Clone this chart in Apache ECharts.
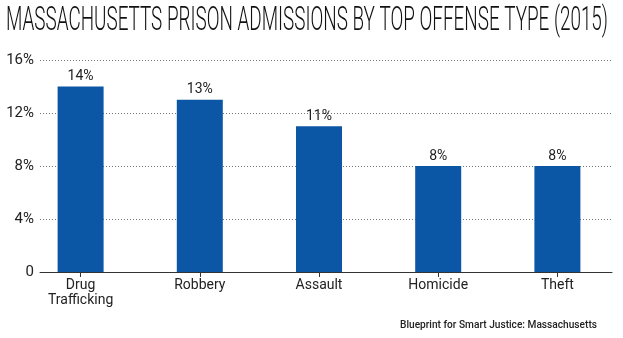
<!DOCTYPE html>
<html>
<head>
<meta charset="utf-8">
<script src="https://cdn.jsdelivr.net/npm/echarts@6/dist/echarts.min.js"></script>
<style>
  html, body { margin: 0; padding: 0; background: #fff; }
  #chart { width: 623px; height: 338px; }
</style>
</head>
<body>
<div id="chart"></div>
<script>
// Offense categories and share of 2015 prison admissions (%)
const categories = ['Drug\nTrafficking', 'Robbery', 'Assault', 'Homicide', 'Theft'];
const shares = [14, 13, 11, 8, 8];
const yTicks = [0, 4, 8, 12, 16];
const titleText = 'MASSACHUSETTS PRISON ADMISSIONS BY TOP OFFENSE TYPE (2015)';
const sourceText = 'Blueprint for Smart Justice: Massachusetts';

const font = 'Roboto, "Noto Sans", sans-serif';

// Squeeze text horizontally so it fills a given width (condensed look)
function squeeze(text, size, weight, width) {
  const ctx = document.createElement('canvas').getContext('2d');
  ctx.font = weight + ' ' + size + 'px ' + font;
  return width / ctx.measureText(text).width;
}

const chart = echarts.init(document.getElementById('chart'));

chart.setOption({
  animation: false,
  graphic: [{
    type: 'text',
    x: 6, y: 4,
    scaleX: squeeze(titleText, 34, '300', 602),
    style: { text: titleText, font: '300 34px ' + font, fill: '#111' }
  }, {
    type: 'text',
    x: 597, y: 320,
    scaleX: squeeze(sourceText, 11, '500', 197),
    style: { text: sourceText, font: '500 11px ' + font, fill: '#222', align: 'right' }
  }],
  grid: [
    { left: 40, right: 11, top: 60, bottom: 66 },
    { left: 21, right: 6, top: 60, bottom: 66 }
  ],
  xAxis: [{
    gridIndex: 0, type: 'value', min: 0, max: 1,
    axisLine: { show: true, lineStyle: { color: '#333', width: 1 } },
    axisTick: { show: false }, axisLabel: { show: false }, splitLine: { show: false }
  }, {
    gridIndex: 1, type: 'category', data: categories,
    axisLine: { show: false },
    axisTick: { show: true, alignWithLabel: true, length: 5, lineStyle: { color: '#333' } },
    axisLabel: { fontFamily: font, fontSize: 14, color: '#222', margin: 6, lineHeight: 15 }
  }],
  yAxis: [{
    gridIndex: 0, type: 'value', min: 0, max: 16, interval: 4,
    axisLine: { show: false }, axisTick: { show: false },
    axisLabel: {
      fontFamily: font, fontSize: 15, color: '#222', margin: 6,
      formatter: v => (yTicks.includes(v) ? (v === 0 ? '0' : v + '%') : '')
    },
    splitLine: { show: true, lineStyle: { type: [1, 2], color: '#777', width: 1 } }
  }, {
    gridIndex: 1, type: 'value', min: 0, max: 16, show: false
  }],
  series: [{
    type: 'bar',
    xAxisIndex: 1, yAxisIndex: 1,
    data: shares,
    barWidth: 46,
    itemStyle: { color: '#0b56a5' },
    label: {
      show: true, position: 'top', distance: 3,
      formatter: p => p.value + '%',
      fontFamily: font, fontSize: 14, color: '#222'
    }
  }]
});
</script>
</body>
</html>
